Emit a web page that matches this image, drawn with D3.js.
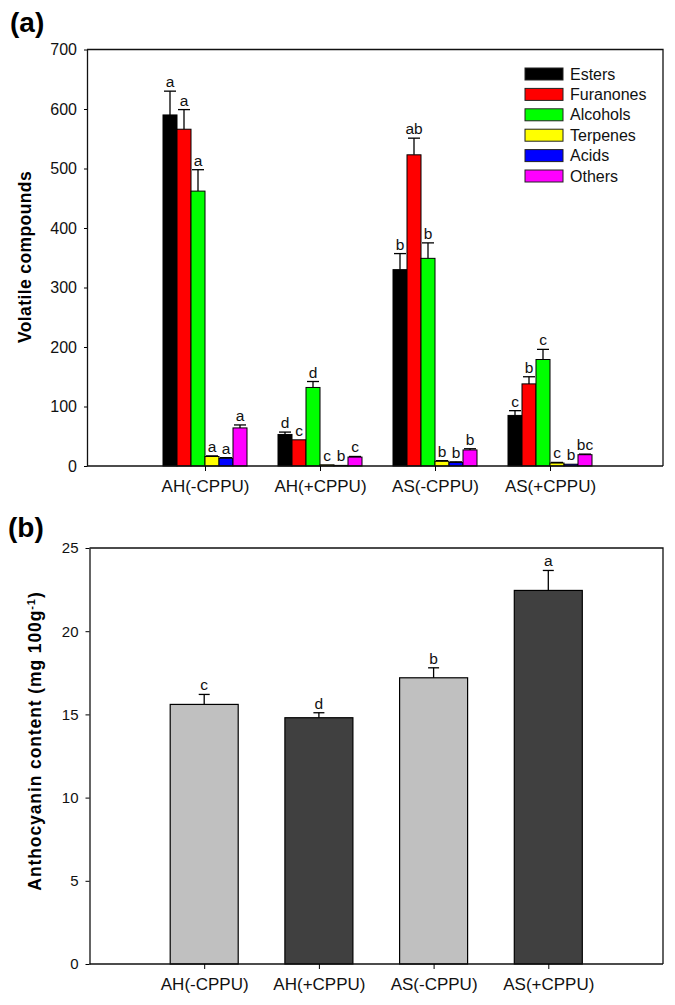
<!DOCTYPE html>
<html><head><meta charset="utf-8">
<script src="https://cdn.jsdelivr.net/npm/d3@7"></script>
<style>body{margin:0;background:#fff}svg{display:block;font-family:Arial,"Liberation Sans",sans-serif}</style>
</head><body>
<script>
// ---------- data: panel (a) ----------
const groups = ["AH(-CPPU)", "AH(+CPPU)", "AS(-CPPU)", "AS(+CPPU)"];
const seriesNames = ["Esters", "Furanones", "Alcohols", "Terpenes", "Acids", "Others"];
const seriesColors = ["#000000", "#ff0000", "#00ff00", "#ffff00", "#0000ff", "#ff00ff"];
const esters      = [590, 53, 330, 85];
const furanones   = [566, 44, 523, 138];
const alcohols    = [462, 132, 349, 179];
const terpenes    = [16, 2, 8, 5];
const acids       = [13, 1, 6, 3];
const others      = [64, 15, 27, 19];
const estersErr    = [40, 4, 27, 8];
const furanonesErr = [33, 0, 28, 12];
const alcoholsErr  = [36, 10, 26, 17];
const terpenesErr  = [1, 0, 1, 1];
const acidsErr     = [1, 0, 1, 0];
const othersErr    = [5, 1, 2, 1];
const estersLet    = ["a", "d", "b", "c"];
const furanonesLet = ["a", "c", "ab", "b"];
const alcoholsLet  = ["a", "d", "b", "c"];
const terpenesLet  = ["a", "c", "b", "c"];
const acidsLet     = ["a", "b", "b", "b"];
const othersLet    = ["a", "c", "b", "bc"];
const yTicksA = [0, 100, 200, 300, 400, 500, 600, 700];

// ---------- data: panel (b) ----------
const anthocyanin    = [15.6, 14.8, 17.2, 22.45];
const anthocyaninErr = [0.6, 0.3, 0.6, 1.2];
const anthocyaninLet = ["c", "d", "b", "a"];
const barColorsB     = ["#c0c0c0", "#404040", "#c0c0c0", "#404040"];
const yTicksB = [0, 5, 10, 15, 20, 25];

const seriesVals = [esters, furanones, alcohols, terpenes, acids, others];
const seriesErrs = [estersErr, furanonesErr, alcoholsErr, terpenesErr, acidsErr, othersErr];
const seriesLets = [estersLet, furanonesLet, alcoholsLet, terpenesLet, acidsLet, othersLet];

const svg = d3.select("body").append("svg").attr("width", 675).attr("height", 1005);

// ================= Panel (a) =================
const A = {left: 87, right: 663, top: 49.5, bottom: 466};
const xA = d3.scalePoint().domain(groups).range([90, 665]).padding(1);
const xInner = d3.scaleBand().domain(seriesNames).range([-42, 42]).padding(0);
const yA = d3.scaleLinear().domain([0, 700]).range([A.bottom, A.top]);

svg.append("text").attr("x", 10).attr("y", 32).attr("font-size", 28).attr("font-weight", "bold").text("(a)");

const gA = svg.append("g");
seriesNames.forEach((s, si) => {
  const g = gA.append("g");
  groups.forEach((grp, gi) => {
    const v = seriesVals[si][gi], e = seriesErrs[si][gi];
    const x0 = xA(grp) + xInner(s), w = xInner.bandwidth(), cx = x0 + w / 2;
    g.append("rect").attr("x", x0).attr("y", yA(v)).attr("width", w).attr("height", yA(0) - yA(v))
      .attr("fill", seriesColors[si]).attr("stroke", "#000").attr("stroke-width", 1);
    if (e > 0) {
      g.append("line").attr("x1", cx).attr("x2", cx).attr("y1", yA(v)).attr("y2", yA(v + e)).attr("stroke", "#000").attr("stroke-width", 1.3);
      g.append("line").attr("x1", cx - 6).attr("x2", cx + 6).attr("y1", yA(v + e)).attr("y2", yA(v + e)).attr("stroke", "#000").attr("stroke-width", 1.3);
    }
    g.append("text").attr("x", cx).attr("y", yA(v + e) - 4).attr("text-anchor", "middle")
      .attr("font-size", 15.5).attr("fill", "#111").text(seriesLets[si][gi]);
  });
});

gA.append("path").attr("d", `M${A.left},${A.top}H${A.right}V${A.bottom}`).attr("fill", "none").attr("stroke", "#111").attr("stroke-width", 1.3);
const yAxA = gA.append("g").attr("transform", `translate(${A.left},0)`)
  .call(d3.axisLeft(yA).tickValues(yTicksA).tickSize(3).tickSizeOuter(0).tickPadding(7));
yAxA.selectAll("text").attr("font-size", 16).attr("fill", "#111").attr("font-family", null);
yAxA.select(".domain").attr("stroke", "#111").attr("stroke-width", 1.3);
const xAxA = gA.append("g").attr("transform", `translate(0,${A.bottom})`)
  .call(d3.axisBottom(xA).tickSize(5).tickSizeOuter(0).tickPadding(9));
xAxA.select(".domain").attr("d", `M${A.left},0H${A.right}`).attr("stroke", "#111").attr("stroke-width", 1.3);
xAxA.selectAll("text").attr("font-size", 17).attr("fill", "#111").attr("font-family", null);
svg.append("text").attr("transform", "translate(31,257) rotate(-90)").attr("text-anchor", "middle")
  .attr("font-size", 17.5).attr("font-weight", "bold").attr("letter-spacing", 0.4).text("Volatile compounds");

const leg = svg.append("g");
seriesNames.forEach((s, i) => {
  const cy = 74 + i * 20.4;
  leg.append("rect").attr("x", 525).attr("y", cy - 6).attr("width", 38).attr("height", 12)
    .attr("fill", seriesColors[i]).attr("stroke", "#222").attr("stroke-width", 1);
  leg.append("text").attr("x", 570).attr("y", cy + 5.5).attr("font-size", 16).attr("fill", "#111").text(s);
});

// ================= Panel (b) =================
const B = {left: 89.5, right: 663, top: 548, bottom: 964};
const xB = d3.scalePoint().domain(groups).range([B.left, B.right]).padding(1);
const yB = d3.scaleLinear().domain([0, 25]).range([B.bottom, B.top]);
const bwB = 68;

svg.append("text").attr("x", 8).attr("y", 537).attr("font-size", 28).attr("font-weight", "bold").text("(b)");

const gB = svg.append("g");
groups.forEach((grp, i) => {
  const v = anthocyanin[i], e = anthocyaninErr[i], cx = xB(grp);
  gB.append("rect").attr("x", cx - bwB / 2).attr("y", yB(v)).attr("width", bwB).attr("height", yB(0) - yB(v))
    .attr("fill", barColorsB[i]).attr("stroke", "#000").attr("stroke-width", 1.2);
  gB.append("line").attr("x1", cx).attr("x2", cx).attr("y1", yB(v)).attr("y2", yB(v + e)).attr("stroke", "#000").attr("stroke-width", 1.3);
  gB.append("line").attr("x1", cx - 5.5).attr("x2", cx + 5.5).attr("y1", yB(v + e)).attr("y2", yB(v + e)).attr("stroke", "#000").attr("stroke-width", 1.3);
  gB.append("text").attr("x", cx).attr("y", yB(v + e) - 4).attr("text-anchor", "middle")
    .attr("font-size", 15.5).attr("fill", "#111").text(anthocyaninLet[i]);
});
gB.append("path").attr("d", `M${B.left},${B.top}H${B.right}V${B.bottom}`).attr("fill", "none").attr("stroke", "#111").attr("stroke-width", 1.3);
const yAxB = gB.append("g").attr("transform", `translate(${B.left},0)`)
  .call(d3.axisLeft(yB).tickValues(yTicksB).tickSize(4).tickSizeOuter(0).tickPadding(7));
yAxB.selectAll("text").attr("font-size", 15).attr("fill", "#111").attr("font-family", null);
yAxB.select(".domain").attr("stroke", "#111").attr("stroke-width", 1.3);
const xAxB = gB.append("g").attr("transform", `translate(0,${B.bottom})`)
  .call(d3.axisBottom(xB).tickSize(5).tickSizeOuter(0).tickPadding(9));
xAxB.select(".domain").attr("d", `M${B.left},0H${B.right}`).attr("stroke", "#111").attr("stroke-width", 1.3);
xAxB.selectAll("text").attr("font-size", 17).attr("fill", "#111").attr("font-family", null);

const yl = svg.append("text").attr("transform", "translate(41,741) rotate(-90)").attr("text-anchor", "middle")
  .attr("font-size", 17.5).attr("font-weight", "bold").attr("letter-spacing", 0.9);
yl.append("tspan").text("Anthocyanin content (mg 100g");
yl.append("tspan").attr("dy", -6).attr("font-size", 11).text("-1");
yl.append("tspan").attr("dy", 6).text(")");
</script>
</body></html>
